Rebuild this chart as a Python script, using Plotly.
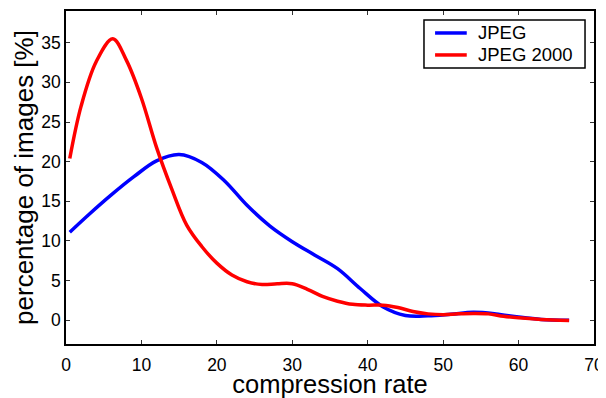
import plotly.graph_objects as go

# JPEG (blue)
jpeg_x = [0.5, 3, 6, 9, 12, 15, 18, 21, 24, 27, 30, 33, 36, 39, 42, 45, 48, 51, 54, 57, 60, 63, 66.7]
jpeg_y = [11.1, 13.3, 15.8, 18.1, 20.1, 20.9, 19.9, 17.6, 14.5, 11.9, 9.9, 8.2, 6.5, 4.0, 1.7, 0.6, 0.55, 0.75, 1.0, 0.8, 0.4, 0.1, 0.0]

# JPEG 2000 (red)
j2k_x = [0.5, 2, 4, 6.2, 8, 10, 12, 14, 16, 18, 20, 22, 24, 26, 28, 30, 32, 34, 36, 38, 40, 42, 44, 46, 48, 50, 52, 54, 56, 58, 60, 63, 66.7]
j2k_y = [20.4, 27.0, 32.6, 35.5, 32.8, 28.0, 21.8, 16.6, 12.0, 9.3, 7.2, 5.7, 4.85, 4.5, 4.6, 4.6, 3.9, 3.0, 2.4, 2.0, 1.9, 1.9, 1.6, 1.1, 0.8, 0.7, 0.8, 0.85, 0.8, 0.5, 0.3, 0.1, -0.05]

series_names = ["JPEG", "JPEG 2000"]
series_colors = ["#0000ff", "#ff0000"]

x_ticks = [0, 10, 20, 30, 40, 50, 60, 70]
y_ticks = [0, 5, 10, 15, 20, 25, 30, 35]

FONT = "Liberation Sans, Arial, Helvetica"

fig = go.Figure()
for (xs, ys), name, color in zip([(jpeg_x, jpeg_y), (j2k_x, j2k_y)], series_names, series_colors):
    fig.add_trace(go.Scatter(x=xs, y=ys, mode="lines", name=name, showlegend=False,
                             line=dict(color=color, width=3.5, shape="spline", smoothing=1.0)))

axis_common = dict(showgrid=False, zeroline=False, showline=True, linecolor="black", linewidth=1.5,
                   mirror="ticks", ticks="inside", ticklen=4, tickwidth=1, tickcolor="#333333",
                   automargin=False,
                   tickfont=dict(size=17.5, color="black", family=FONT))

fig.update_xaxes(range=[0, 70], tickvals=x_ticks, **axis_common, ticklabelstandoff=4,
                 title=dict(text="compression rate", font=dict(size=25.5, color="black", family=FONT), standoff=2))
fig.update_yaxes(range=[-3, 39], tickvals=y_ticks, **axis_common,
                 title=dict(text="percentage of images [%]", font=dict(size=26, color="black", family=FONT), standoff=0))

# boxed legend in the upper-right corner (paper coordinates)
box_x0, box_x1, box_y0, box_y1 = 0.678, 0.983, 0.829, 0.973
row_y = [0.934, 0.868]
shapes = [dict(type="rect", xref="paper", yref="paper", x0=box_x0, x1=box_x1, y0=box_y0, y1=box_y1,
               line=dict(color="black", width=1.5), fillcolor="white", layer="above")]
annotations = []
for name, color, ry in zip(series_names, series_colors, row_y):
    shapes.append(dict(type="line", xref="paper", yref="paper", x0=0.699, x1=0.759, y0=ry, y1=ry,
                       line=dict(color=color, width=3.5), layer="above"))
    annotations.append(dict(xref="paper", yref="paper", x=0.776, y=ry, text=name, showarrow=False,
                            xanchor="left", yanchor="middle",
                            font=dict(size=18.5, color="black", family=FONT)))

# the page body adds an 8px offset, so the figure is sized to fit the 606x398 window
fig.update_layout(
    width=598, height=390,
    margin=dict(l=58, r=12, t=3, b=54),
    plot_bgcolor="white", paper_bgcolor="white",
    font=dict(family=FONT, color="black"),
    shapes=shapes, annotations=annotations,
    showlegend=False,
)

fig.write_html("out.html")
